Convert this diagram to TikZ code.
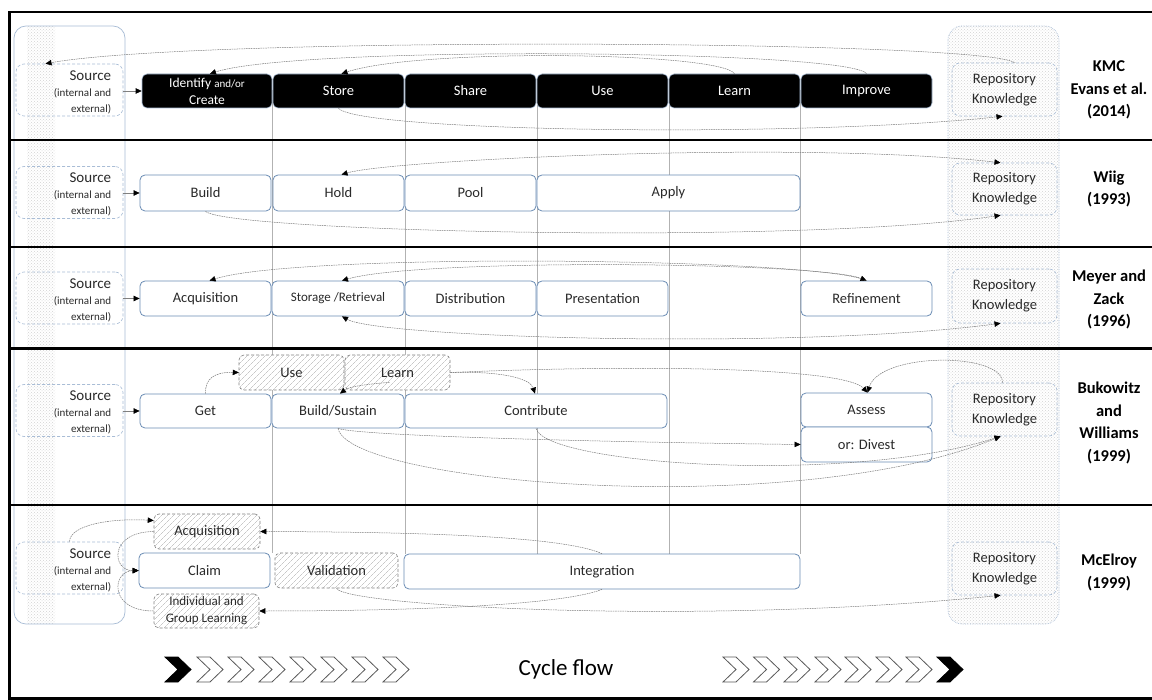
\documentclass[tikz,border=0pt]{standalone}
\usepackage{fontspec}
\setmainfont{Carlito}
\usetikzlibrary{arrows.meta,patterns,patterns.meta,calc}
\definecolor{bxblue}{HTML}{6B8CB4}
\definecolor{ltblue}{HTML}{A9BDD6}
\definecolor{conng}{HTML}{7A7A7A}
\definecolor{txt}{HTML}{2A2A2A}
\tikzset{
  wbox/.style={draw=bxblue, fill=white, rounded corners=5pt, line width=0.8pt, inner sep=0pt, text=txt, align=center, font=\fontsize{14.5}{16}\selectfont},
  blk/.style={draw=ltblue, fill=black, text=white, rounded corners=5pt, line width=0.6pt, inner sep=0pt, align=center, font=\fontsize{14.5}{16}\selectfont},
  hbox/.style={draw=gray, densely dashed, line width=0.6pt, preaction={fill=white}, pattern={Lines[angle=45,distance=4pt,line width=0.45pt]}, pattern color=gray!65, rounded corners=5pt, inner sep=0pt, text=txt, align=center, font=\fontsize{14.5}{16}\selectfont},
  srcbox/.style={draw=ltblue, densely dashed, rounded corners=8pt, line width=0.6pt, minimum width=107pt, minimum height=52pt, inner sep=0pt},
  srctxt/.style={anchor=east, align=right, inner sep=0pt, text=txt, font=\fontsize{15}{16}\selectfont},
  repbox/.style={draw=ltblue, densely dashed, rounded corners=8pt, line width=0.6pt, minimum width=105pt, minimum height=53pt, inner sep=0pt, align=center, text=txt, font=\fontsize{14.5}{20}\selectfont},
  lab/.style={font=\bfseries\fontsize{16.5}{22.5}\selectfont, align=center, text=black},
  conn/.style={draw=conng, dash pattern=on 1.6pt off 0.8pt, line width=0.5pt, -{Triangle[length=6pt,width=5.5pt,color=black]}},
  conn2/.style={draw=conng, dash pattern=on 1.6pt off 0.8pt, line width=0.5pt, {Triangle[length=6pt,width=5.5pt,color=black]}-{Triangle[length=6pt,width=5.5pt,color=black]}},
  sarr/.style={draw=gray, line width=0.6pt, -{Triangle[length=6pt,width=5.5pt,color=black]}},
  guide/.style={draw=gray!60, line width=0.6pt},
  sep/.style={draw=black, line width=2.6pt},
  chevw/.style={draw=gray!70!black, fill=white, line width=0.8pt, line join=miter},
  chevb/.style={draw=black, fill=black, line width=0.8pt},
}
\newcommand{\smalltxt}{\fontsize{11}{15}\selectfont}
\newcommand{\srctext}{Source\\{\smalltxt (internal and}\\{\smalltxt external)}}
\begin{document}
\begin{tikzpicture}[x=1pt,y=-1pt]
\useasboundingbox (0,0) rectangle (1152,700);
\fill[white] (0,0) rectangle (1152,700);

% left column
\begin{scope}
\clip[rounded corners=12pt] (14,26) rectangle (125,624);
\fill[pattern=crosshatch dots, pattern color=gray!35] (27,26) rectangle (55,624);
\end{scope}
\draw[ltblue, line width=0.7pt, rounded corners=12pt] (14,26) rectangle (125,624);
% right column
\fill[pattern=crosshatch dots, pattern color=gray!35, rounded corners=14pt] (948,26) rectangle (1059,624);
\draw[ltblue, densely dotted, line width=0.7pt, rounded corners=14pt] (948,26) rectangle (1059,624);

% guides
\draw[guide] (272,90) -- (272,553);
\foreach \gx in {405,537,669,800} \draw[guide] (\gx,90) -- (\gx,554);

% frame
\draw[sep] (1152,12) -- (9.5,12) -- (9.5,698.5) -- (1152,698.5);
\foreach \sy in {140,247,348.5,505} \draw[sep] (9.5,\sy) -- (1152,\sy);

% Row 1
\node[srcbox] (src1) at (69.5,90) {};
\node[srctxt] (src1t) at ([xshift=-12pt,yshift=-2pt]src1.east) {\srctext};
\node[blk, minimum width=130pt, minimum height=34pt, font=\fontsize{13.5}{17}\selectfont] (idc) at (207,91) {Identify {\fontsize{11}{12}\selectfont and/or}\\Create};
\node[blk, minimum width=131pt, minimum height=34pt] (store) at (338.5,91) {Store};
\node[blk, minimum width=131pt, minimum height=34pt] (share) at (470.5,91) {Share};
\node[blk, minimum width=131pt, minimum height=34pt] (use1) at (602.5,91) {Use};
\node[blk, minimum width=131pt, minimum height=34pt] (learn1) at (734.5,91) {Learn};
\node[blk, minimum width=131pt, minimum height=34pt] (improve) at (866.5,91) {Improve};
\node[repbox] (repo1) at (1004.5,89.5) {Repository\\Knowledge};
\node[lab] (l1) at (1109,90) {KMC\\Evans et al.\\(2014)};

% Row 2
\node[srcbox] (src2) at (69.5,192.5) {};
\node[srctxt] (src2t) at ([xshift=-12pt,yshift=-2pt]src2.east) {\srctext};
\node[wbox, minimum width=131pt, minimum height=36pt] (build) at (205.5,193) {Build};
\node[wbox, minimum width=131pt, minimum height=36pt] (hold) at (338.5,193) {Hold};
\node[wbox, minimum width=131pt, minimum height=36pt] (pool) at (470.5,193) {Pool};
\node[wbox, minimum width=263pt, minimum height=36pt] (apply) at (668.5,193) {Apply};
\node[repbox, minimum height=52pt] (repo2) at (1004.5,189) {Repository\\Knowledge};
\node[lab] (l2) at (1109,189) {Wiig\\(1993)};

% Row 3
\node[srcbox] (src3) at (69.5,298) {};
\node[srctxt] (src3t) at ([xshift=-12pt,yshift=-2pt]src3.east) {\srctext};
\node[wbox, minimum width=131pt, minimum height=35pt] (acq) at (205.5,298.5) {Acquisition};
\node[wbox, minimum width=132pt, minimum height=35pt, font=\fontsize{13}{15}\selectfont] (stor) at (338,298.5) {Storage /Retrieval};
\node[wbox, minimum width=131pt, minimum height=35pt] (dist) at (470.5,298.5) {Distribution};
\node[wbox, minimum width=131pt, minimum height=35pt] (pres) at (602.5,298.5) {Presentation};
\node[wbox, minimum width=131pt, minimum height=35pt] (ref) at (866.5,298.5) {Refinement};
\node[repbox, minimum height=54pt] (repo3) at (1004.5,296) {Repository\\Knowledge};
\node[lab] (l3) at (1109,299.5) {Meyer and\\Zack\\(1996)};

% Row 4
\node[srcbox] (src4) at (69.5,410.5) {};
\node[srctxt] (src4t) at ([xshift=-12pt,yshift=-2pt]src4.east) {\srctext};
\node[wbox, minimum width=131pt, minimum height=34pt] (get) at (205.5,411) {Get};
\node[wbox, minimum width=132pt, minimum height=34pt] (bs) at (338,411) {Build/Sustain};
\node[wbox, minimum width=262pt, minimum height=34pt] (contrib) at (536,411) {Contribute};
\node[wbox, minimum width=131pt, minimum height=34pt] (assess) at (866.5,410) {Assess};
\node[wbox, minimum width=131pt, minimum height=35pt] (divest) at (866.5,444.5) {or: Divest};
\node[hbox, minimum width=105pt, minimum height=35pt] (use4) at (291.5,372.5) {Use};
\node[hbox, minimum width=105pt, minimum height=35pt] (learn4) at (397.5,372.5) {Learn};
\node[repbox] (repo4) at (1004.5,409.5) {Repository\\Knowledge};
\node[lab] (l4) at (1109,423) {Bukowitz\\and\\Williams\\(1999)};

% Row 5
\node[srcbox] (src5) at (69.5,568) {};
\node[srctxt] (src5t) at ([xshift=-12pt,yshift=-2pt]src5.east) {\srctext};
\node[hbox, minimum width=106pt, minimum height=35pt] (acq5) at (207,531.5) {Acquisition};
\node[wbox, minimum width=131pt, minimum height=35pt] (claim) at (204.5,570.5) {Claim};
\node[hbox, minimum width=123pt, minimum height=35pt] (valid) at (336.5,570.5) {Validation};
\node[wbox, minimum width=396pt, minimum height=35pt] (integ) at (602,571.5) {Integration};
\node[hbox, minimum width=105pt, minimum height=34pt, font=\fontsize{13}{17}\selectfont] (igl) at (206.5,611) {Individual and\\Group Learning};
\node[repbox] (repo5) at (1004.5,568.5) {Repository\\Knowledge};
\node[lab] (l5) at (1109,572.5) {McElroy\\(1999)};

% straight source arrows
\draw[sarr] (src1.east |- idc.west) -- (idc.west);
\draw[sarr] (src2.east |- build.west) -- (build.west);
\draw[sarr] (src3.east |- acq.west) -- (acq.west);
\draw[sarr] (src4.east |- get.west) -- (get.west);

% Row 1 connectors
\draw[conn] ([xshift=10pt]repo1.north) .. controls (985,40) and (200,36) .. ([xshift=-24pt]src1.north);
\draw[conn] (improve.north) .. controls (850,50) and (300,45) .. ([xshift=3pt]idc.north);
\draw[conn] (learn1.north) .. controls (720,52) and (420,48) .. ([xshift=3pt]store.north);
\draw[conn] (store.south) .. controls (360,132) and (800,138) .. ([xshift=-2pt]repo1.south);

% Row 2 connectors
\draw[conn2] ([xshift=3pt]hold.north) .. controls (390,160) and (800,140) .. ([xshift=-4pt]repo2.north);
\draw[conn] (build.south) .. controls (230,232) and (800,245) .. ([xshift=-4pt]repo2.south);

% Row 3 connectors
\draw[conn] (ref.north) .. controls (820,258) and (300,252) .. ([xshift=4pt]acq.north);
\draw[conn2] (ref.north) .. controls (820,262) and (420,258) .. ([xshift=4pt]stor.north);
\draw[conn2] ([xshift=4pt]stor.south) .. controls (380,338) and (800,350) .. ([xshift=-4pt]repo3.south);

% Row 4 connectors
\draw[conn] (get.north) .. controls (205,378) and (215,372) .. (use4.west);
\draw[conn] ([xshift=-8pt,yshift=8pt]learn4.south) .. controls (370,384) and (350,386) .. ([xshift=2pt]bs.north);
\draw[conn] (learn4.east) .. controls (500,371) and (530,378) .. ([xshift=-1pt]contrib.north);
\draw[conn] (learn4.east) .. controls (650,364) and (845,368) .. ([xshift=1pt]assess.north);
\draw[conn] ([xshift=-2pt]repo4.north) .. controls (1003,352) and (880,352) .. ([xshift=1pt]assess.north);
\draw[conn] (bs.south) .. controls (360,436) and (600,442) .. (divest.west);
\draw[conn] (bs.south) .. controls (350,485) and (800,520) .. ([xshift=-4pt]repo4.south);
\draw[conn] (contrib.south) .. controls (545,465) and (850,485) .. ([xshift=-4pt]repo4.south);

% Row 5 connectors
\draw[conn] (src5.north) .. controls (70,525) and (110,518) .. ([yshift=11pt]acq5.west);
\draw[conn] (acq5.west) .. controls (108,532) and (112,571) .. (claim.west);
\draw[conn] (igl.west) .. controls (108,611) and (112,571) .. (claim.west);
\draw[conn] (integ.north) .. controls (560,535) and (400,532) .. (acq5.east);
\draw[conn] (integ.south) .. controls (560,606) and (400,611) .. (igl.east);
\draw[conn] (valid.south) .. controls (345,606) and (700,626) .. ([xshift=-4pt]repo5.south);

% Cycle flow
\node[font=\fontsize{23}{26}\selectfont, text=black] (cyc) at (566,669) {Cycle flow};
\draw[chevb] (165,657) -- ++(13,0) -- ++(13,12.5) -- ++(-13,12.5) -- ++(-13,0) -- ++(13,-12.5) -- cycle;
\foreach \cx in {197,228,259,290,321,352,383,723,753.5,784,815,845,876,906}
  \draw[chevw] (\cx,657) -- ++(13,0) -- ++(13,12.5) -- ++(-13,12.5) -- ++(-13,0) -- ++(13,-12.5) -- cycle;
\draw[chevb] (937,657) -- ++(13,0) -- ++(13,12.5) -- ++(-13,12.5) -- ++(-13,0) -- ++(13,-12.5) -- cycle;
\end{tikzpicture}
\end{document}
